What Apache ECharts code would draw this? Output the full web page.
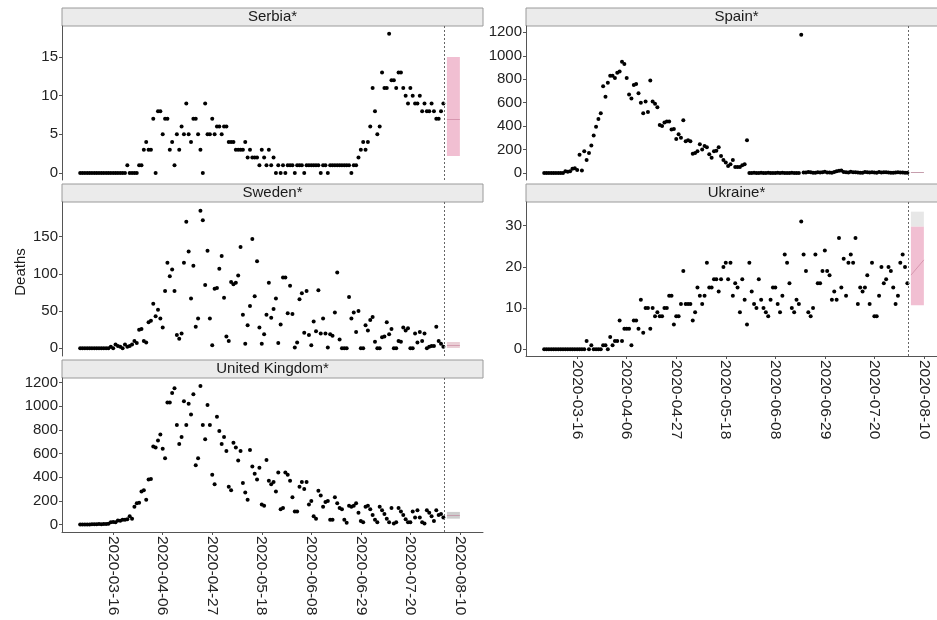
<!DOCTYPE html>
<html>
<head>
<meta charset="utf-8">
<script src="https://cdn.jsdelivr.net/npm/echarts@6/dist/echarts.min.js"></script>
<style>
html,body{margin:0;padding:0;background:#fff;}
#c{width:937px;height:620px;}
</style>
</head>
<body>
<div id="c"></div>
<script>
// ---- data (daily deaths, first value = 2020-03-02) ----
const startDate = '2020-03-02';
const countries = ['Serbia*', 'Spain*', 'Sweden*', 'Ukraine*', 'United Kingdom*'];

const serbia = [0,0,0,0,0,0,0,0,0,0,0,0,0,0,0,0,0,0,0,0,
  1,0,0,0,0,1,1,
  3,4,3,3,7,0,8,8,5,7,7,3,4,1,5,3,6,5,9,5,4,7,7,5,3,0,9,5,5,7,5,6,6,5,6,6,
  4,4,4,3,3,3,3,4,
  2,3,2,2,2,1,3,2,1,3,1,2,
  0,1,0,1,0,1,1,1,0,1,1,1,0,1,1,1,1,1,1,0,1,1,0,1,1,1,1,1,1,1,1,1,0,1,1,
  2,3,4,3,4,6,11,8,5,6,13,11,11,18,12,12,11,13,13,11,10,9,11,10,9,9,10,8,9,8,8,9,8,7,7,8,9];

const spain = [0,0,0,0,0,0,0,0,0,
  15,10,15,35,40,25,155,20,185,110,170,235,320,395,460,510,740,650,770,830,830,810,855,865,950,930,
  810,670,635,750,760,680,600,510,610,520,790,610,590,560,410,400,430,440,440,370,375,290,330,300,
  450,270,280,270,165,170,185,245,200,230,220,160,130,185,190,220,145,110,90,60,75,110,50,50,50,65,75,280,
  0,0,1,0,0,2,0,0,1,0,0,0,2,0,1,0,0,0,1,0,0,0,
  1179,
  3,5,8,6,2,1,7,4,6,10,5,3,2,9,14,18,22,8,6,3,11,7,6,5,2,1,8,6,5,7,4,2,8,5,6,7,5,2,1,5,6,4,3,1,2];

const sweden = [0,0,0,0,0,0,0,0,0,0,0,0,
  0,2,0,5,3,2,0,5,2,
  3,5,10,7,25,26,10,8,35,37,
  60,43,52,40,28,77,115,97,106,77,
  18,13,20,115,170,130,67,111,29,40,
  185,172,85,131,40,4,80,81,107,124,
  68,16,10,89,86,88,98,136,45,6,
  31,57,147,70,117,28,6,19,45,88,
  41,53,67,7,32,95,95,47,84,46,
  1,8,66,74,21,77,18,4,36,23,
  78,20,40,20,1,19,17,48,102,12,
  0,0,0,69,40,48,22,50,0,0,
  31,24,38,42,9,0,0,15,16,35,
  19,26,0,0,10,9,28,24,27,0,
  0,20,8,22,10,20,0,2,3,3,
  29,10,6,2];

const ukraine = [0,0,0,0,0,0,0,0,0,0,0,0,0,0,0,0,0,0,
  2,0,1,0,0,0,0,1,1,0,
  3,1,2,2,7,2,5,5,5,1,
  7,7,5,12,4,10,10,5,10,8,
  9,8,8,10,10,13,13,6,8,8,
  11,19,11,11,11,7,9,15,13,11,
  13,21,15,15,17,17,14,17,20,21,
  17,21,13,16,15,9,17,12,6,21,
  14,11,10,17,12,10,9,8,12,15,
  15,11,9,13,23,21,16,10,9,12,
  11,31,23,19,9,8,10,23,16,16,
  19,24,19,18,12,14,12,27,15,22,
  13,21,23,21,27,11,15,14,15,18,
  11,21,8,8,13,20,16,17,20,19,
  15,11,13,21,23,20,16];

const uk = [0,0,1,1,1,2,2,3,4,3,5,6,8,
  20,22,20,35,33,40,40,45,70,
  50,150,180,185,280,290,210,380,385,660,
  650,710,760,640,560,1030,1030,1110,1150,840,
  680,740,1040,840,1020,930,1100,500,560,1170,
  840,720,1010,840,420,340,910,790,680,740,
  620,320,290,690,650,540,620,350,270,210,
  630,490,430,380,480,170,160,545,370,340,
  360,280,440,130,140,440,420,370,230,110,
  110,320,360,300,360,170,200,70,50,285,
  245,150,190,200,40,40,230,180,140,130,
  40,15,160,150,160,180,100,30,20,150,
  160,130,80,40,20,150,120,90,50,20,
  140,10,20,140,110,80,45,20,20,110,
  60,120,60,20,10,120,100,70,30,120,
  80,90,60];

// tick labels
const xTickDates = ['2020-03-16','2020-04-06','2020-04-27','2020-05-18','2020-06-08','2020-06-29','2020-07-20','2020-08-10'];
const yTicks = [
  [0,5,10,15],
  [0,200,400,600,800,1000,1200],
  [0,50,100,150],
  [0,10,20,30],
  [0,200,400,600,800,1000,1200]
];
// forecast (date range and interval bounds)
const forecastDates = ['2020-08-04T12:00:00Z', '2020-08-10T00:00:00Z'];
const forecastLow  = [2.2, 0, 0.5, 10.7, 50];
const forecastHigh = [15, 8, 8.5, 29.8, 107];
const forecastMidStart = [7, 3, 4, 18, 78];
const forecastMidEnd   = [7, 3, 4, 21.7, 78];
const cutoffDate = '2020-08-03T08:00:00Z';

// ---- helpers ----
const DAY = 864e5;
const base = Date.UTC(2020, 2, 16);
function off(d) { return (Date.parse(d.length === 10 ? d + 'T00:00:00Z' : d) - base) / DAY; }
const start = off(startDate);
const xTicks = xTickDates.map(off);
const fStart = off(forecastDates[0]);
const fEnd = off(forecastDates[1]);
const cutoff = off(cutoffDate);

const seriesData = [serbia, spain, sweden, ukraine, uk];
const FONT = "'Liberation Sans', Arial, sans-serif";

const layout = [
  {left: 62, top: 26},
  {left: 526, top: 26},
  {left: 62, top: 202},
  {left: 526, top: 202},
  {left: 62, top: 378}
];
const W = 421, H = 154;
const yRange = [[-0.9, 19], [-60, 1254], [-10.3, 196.6], [-1.63, 35.75], [-62.5, 1237]];
const showX = [false, false, false, true, true];
const bandColor = ['rgba(236,170,195,0.75)', 'rgba(190,190,190,0.8)', 'rgba(225,185,195,0.7)', 'rgba(236,170,195,0.75)', 'rgba(200,200,200,0.9)'];

const grids = [], xAxes = [], yAxes = [], series = [], graphics = [];
layout.forEach((p, k) => {
  grids.push({left: p.left, top: p.top, width: W, height: H, containLabel: false, outerBoundsMode: 'none'});
  xAxes.push({
    type: 'value', gridIndex: k, min: -21.7, max: 156.8,
    axisLine: {show: showX[k], onZero: false, lineStyle: {color: '#555', width: 1}},
    axisTick: {show: showX[k], length: 3, customValues: xTicks, lineStyle: {color: '#555'}},
    axisLabel: {
      show: showX[k], customValues: xTicks, rotate: -90, margin: 4,
      fontSize: 15.5, color: '#222', fontFamily: FONT,
      formatter: v => new Date(base + Math.round(v) * DAY).toISOString().slice(0, 10)
    },
    splitLine: {show: false}
  });
  yAxes.push({
    type: 'value', gridIndex: k, min: yRange[k][0], max: yRange[k][1],
    axisLine: {show: true, onZero: false, lineStyle: {color: '#555', width: 1}},
    axisTick: {show: true, length: 3, customValues: yTicks[k], lineStyle: {color: '#555'}},
    axisLabel: {customValues: yTicks[k], fontSize: 15, color: '#222', fontFamily: FONT, margin: 4,
      formatter: v => String(v)},
    splitLine: {show: false}
  });
  const areas = [[{coord: [fStart, forecastLow[k]], itemStyle: {color: bandColor[k]}}, {coord: [fEnd, forecastHigh[k]]}]];
  if (k === 3) {
    areas.push([{coord: [fStart, forecastHigh[k]], itemStyle: {color: 'rgba(225,225,225,0.8)'}}, {coord: [fEnd, 33.4]}]);
  }
  series.push({
    type: 'scatter', xAxisIndex: k, yAxisIndex: k, silent: true,
    symbolSize: 4, itemStyle: {color: '#000', opacity: 1},
    data: seriesData[k].map((v, i) => [start + i, v]),
    markLine: {
      silent: true, symbol: 'none', label: {show: false}, animation: false,
      data: [
        {xAxis: cutoff, lineStyle: {type: [2, 2], color: '#666', width: 1}},
        [{coord: [fStart, forecastMidStart[k]], lineStyle: {type: 'solid', color: 'rgba(190,110,140,0.5)', width: 1}},
         {coord: [fEnd, forecastMidEnd[k]]}]
      ]
    },
    markArea: {silent: true, data: areas}
  });
  // facet strip
  graphics.push({
    type: 'rect', shape: {x: p.left, y: p.top - 18, width: W, height: 18},
    style: {fill: '#ebebeb', stroke: '#9a9a9a', lineWidth: 1}
  });
  graphics.push({
    type: 'text', x: p.left + W / 2, y: p.top - 9,
    style: {text: countries[k], fill: '#1a1a1a', font: '15px ' + FONT, align: 'center', verticalAlign: 'middle'}
  });
});
graphics.push({
  type: 'text', x: 21, y: 272, rotation: Math.PI / 2,
  style: {text: 'Deaths', fill: '#1a1a1a', font: '15px ' + FONT, align: 'center', verticalAlign: 'middle'}
});

const chart = echarts.init(document.getElementById('c'), null, {renderer: 'canvas'});
chart.setOption({
  animation: false,
  backgroundColor: '#fff',
  grid: grids, xAxis: xAxes, yAxis: yAxes, series: series,
  graphic: graphics
});
</script>
</body>
</html>
